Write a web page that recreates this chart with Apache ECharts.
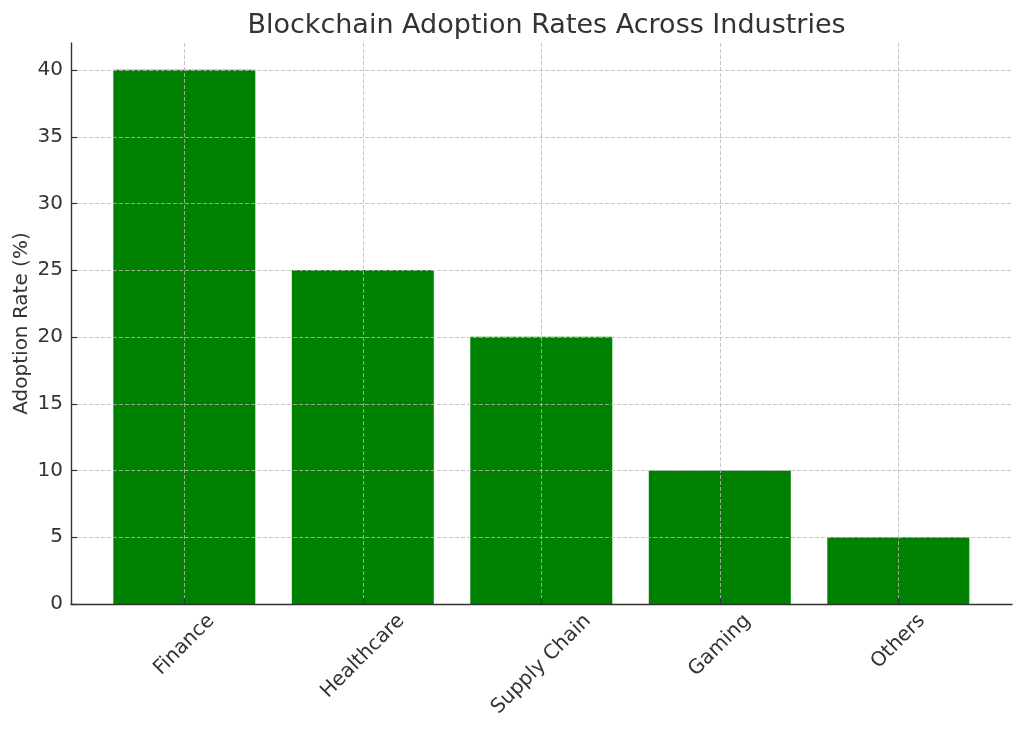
<!DOCTYPE html>
<html>
<head>
<meta charset="utf-8">
<script src="https://cdn.jsdelivr.net/npm/echarts@6/dist/echarts.min.js"></script>
<style>
html,body{margin:0;padding:0;background:#fff;}
#chart{width:1024px;height:731px;}
</style>
</head>
<body>
<div id="chart"></div>
<script>
const categories = ['Finance', 'Healthcare', 'Supply Chain', 'Gaming', 'Others'];
const adoptionRates = [40, 25, 20, 10, 5];
const titleText = 'Blockchain Adoption Rates Across Industries';
const yAxisName = 'Adoption Rate (%)';

const FONT = 'DejaVu Sans';
const TEXT = '#333333';
const GRIDLINE = 'rgba(185,185,185,0.8)';

// matplotlib-like centred rotated labels: shift each label so that its bounding box top sits just below the axis
const measure = document.createElement('canvas').getContext('2d');
measure.font = '20px "' + FONT + '"';
const LABEL_MARGIN = 30;
const rich = {};
categories.forEach(function (c, i) {
  const L = measure.measureText(c).width;
  const centerOffset = 11 + (L + 8) / 2.83;
  const d = Math.max(0, centerOffset - LABEL_MARGIN);
  const P = 1.414 * d;
  rich['l' + i] = { fontSize: 20, fontFamily: FONT, color: TEXT, padding: [P, P, 0, 0] };
});

const chart = echarts.init(document.getElementById('chart'), null, { renderer: 'canvas' });
chart.setOption({
  animation: false,
  backgroundColor: '#ffffff',
  textStyle: { fontFamily: FONT, color: TEXT },
  title: {
    text: titleText,
    left: 541.5,
    top: 7,
    textAlign: 'center',
    textStyle: { fontSize: 27, fontWeight: 'normal', color: TEXT, fontFamily: FONT }
  },
  grid: [
    { left: 71, right: 12, top: 43, bottom: 127 },
    { left: 71, right: 12, top: 70, bottom: 127 },
    { left: 184.3, right: 125.7, top: 43, bottom: 127 }
  ],
  xAxis: [
    {
      gridIndex: 0, type: 'value', min: 0, max: 1, z: 5,
      axisLine: { show: true, onZero: false, lineStyle: { color: TEXT, width: 1.4 } },
      axisTick: { show: false }, axisLabel: { show: false }, splitLine: { show: false }
    },
    { gridIndex: 1, type: 'value', min: 0, max: 1, show: false },
    {
      gridIndex: 2, type: 'category', data: categories, boundaryGap: false, z: 3,
      axisLine: { show: false },
      axisTick: { show: true, inside: true, length: 6, lineStyle: { color: TEXT, width: 1.2 } },
      axisLabel: {
        interval: 0, rotate: 45, margin: LABEL_MARGIN, align: 'center', verticalAlign: 'middle',
        fontSize: 20, color: TEXT, fontFamily: FONT, hideOverlap: false,
        formatter: function (v, i) { return '{l' + i + '|' + v + '}'; },
        rich: rich
      },
      splitLine: { show: true, lineStyle: { color: GRIDLINE, type: [4, 2], width: 1 } }
    }
  ],
  yAxis: [
    {
      gridIndex: 0, type: 'value', min: 0, max: 42, z: 5,
      axisLine: { show: true, lineStyle: { color: TEXT, width: 1.4 } },
      axisTick: { show: false }, axisLabel: { show: false }, splitLine: { show: false },
      name: yAxisName, nameLocation: 'middle', nameGap: 39,
      nameTextStyle: { fontSize: 20, color: TEXT, fontFamily: FONT }
    },
    {
      gridIndex: 1, type: 'value', min: 0, max: 40, interval: 5, z: 3,
      axisLine: { show: false },
      axisTick: { show: true, inside: true, length: 6, lineStyle: { color: TEXT, width: 1.2 } },
      axisLabel: { fontSize: 20, color: TEXT, fontFamily: FONT, margin: 8 },
      splitLine: { show: true, lineStyle: { color: GRIDLINE, type: [4, 2], width: 1 } }
    },
    { gridIndex: 2, type: 'value', min: 0, max: 42, show: false }
  ],
  series: [
    {
      type: 'bar', xAxisIndex: 2, yAxisIndex: 2, data: adoptionRates,
      barWidth: 142, clip: false, z: 2,
      itemStyle: { color: '#008000' }
    }
  ]
});
</script>
</body>
</html>
